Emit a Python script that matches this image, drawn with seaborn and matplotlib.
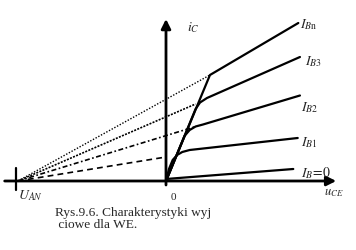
import numpy as np
import pandas as pd
import seaborn as sns
import matplotlib
matplotlib.use("Agg")
import matplotlib.pyplot as plt

sns.set_theme(style="white")
plt.rcParams["mathtext.fontset"] = "stix"
plt.rcParams["font.family"] = ["Liberation Serif", "DejaVu Serif"]

# ---- data (x: u_CE in units of |U_AN|, y: i_C arbitrary units) ----
u_an = -1.0
# output characteristics (solid)
ib0_x = [0.0, 0.86]
ib0_y = [2.0, 12.0]
ib1_x = [0.0, 0.02, 0.045, 0.075, 0.11, 0.16, 0.89]
ib1_y = [0.0, 12.0, 21.0, 26.0, 29.0, 31.0, 43.0]
ib2_x = [0.0, 0.125, 0.16, 0.20, 0.25, 0.905]
ib2_y = [0.0, 45.0, 51.0, 54.5, 56.5, 85.5]
ib3_x = [0.0, 0.20, 0.23, 0.277, 0.905]
ib3_y = [0.0, 72.0, 78.5, 83.0, 124.0]
ibn_x = [0.0, 0.297, 0.894]
ibn_y = [0.0, 106.0, 158.0]
# Early-voltage extrapolations (from U_AN)
ext_ibn = ([u_an, 0.297], [0.0, 106.0])
ext_ib3 = ([u_an, 0.20], [0.0, 77.0])
ext_ib2 = ([u_an, 0.19], [0.0, 54.0])
ext_ib1 = ([u_an, 0.0], [0.0, 24.0])

labels = ["$I_{B\\mathrm{n}}$", "$I_{B3}$", "$I_{B2}$", "$I_{B1}$", "$I_B\\!=\\!0$"]
caption = "Rys.9.6. Charakterystyki wyj\n ciowe dla WE."

# ---- figure ----
W, H = 356, 251
fig = plt.figure(figsize=(W / 100, H / 100), dpi=100)
ax = fig.add_axes([0, 0, 1, 1])
ax.set_xlim(-166 / 148, (W - 166) / 148)
ax.set_ylim(-(H - 182), 182)
ax.axis("off")

solid_kw = dict(color="black", lw=1.6, sort=False, estimator=None, ax=ax, legend=False)
for xs, ys in [(ib0_x, ib0_y), (ib1_x, ib1_y), (ib2_x, ib2_y), (ib3_x, ib3_y), (ibn_x, ibn_y)]:
    sns.lineplot(x=xs, y=ys, **solid_kw)

ext_styles = [
    (ext_ibn, (0, (1, 1.2)), 1.0),
    (ext_ib3, (0, (1.2, 0.8)), 1.2),
    (ext_ib2, (0, (3, 1.5, 1, 1.5)), 1.2),
    (ext_ib1, (0, (3.5, 2.5)), 1.2),
]
for (xs, ys), ls, lw in ext_styles:
    sns.lineplot(x=xs, y=ys, color="black", lw=lw, sort=False, estimator=None, ax=ax, legend=False)
    ax.lines[-1].set_linestyle(ls)

# axes with arrows
ax.annotate("", xy=(1.15, 0), xytext=(-1.09, 0),
            arrowprops=dict(arrowstyle="-|>", mutation_scale=14, lw=2, color="black",
                            shrinkA=0, shrinkB=0))
ax.annotate("", xy=(0, 162), xytext=(0, -4),
            arrowprops=dict(arrowstyle="-|>", mutation_scale=14, lw=2, color="black",
                            shrinkA=0, shrinkB=0))
ax.plot([u_an - 0.012, u_an - 0.012], [-9, 13], color="black", lw=1.6)

# labels
fs = 10
ax.text(0.145, 154, "$i_C$", fontsize=fs, ha="left", va="center")
label_pos = [(0.905, 157), (0.94, 120), (0.915, 74), (0.915, 39), (0.915, 9)]
for (lx, ly), t in zip(label_pos, labels):
    ax.text(lx, ly, t, fontsize=fs, ha="left", va="center")
ax.text(1.07, -11, "$u_{CE}$", fontsize=fs - 1, ha="left", va="center")
ax.text(-1.0, -14, "$U_{AN}$", fontsize=fs, ha="left", va="center")
ax.text(0.047, -15, "0", fontsize=8, ha="center", va="center")
ax.text((55 - 166) / 148, -(219 - 182), caption, fontsize=9.6, ha="left", va="center",
        linespacing=1.0)

fig.savefig("out.png", dpi=100, facecolor="white")
